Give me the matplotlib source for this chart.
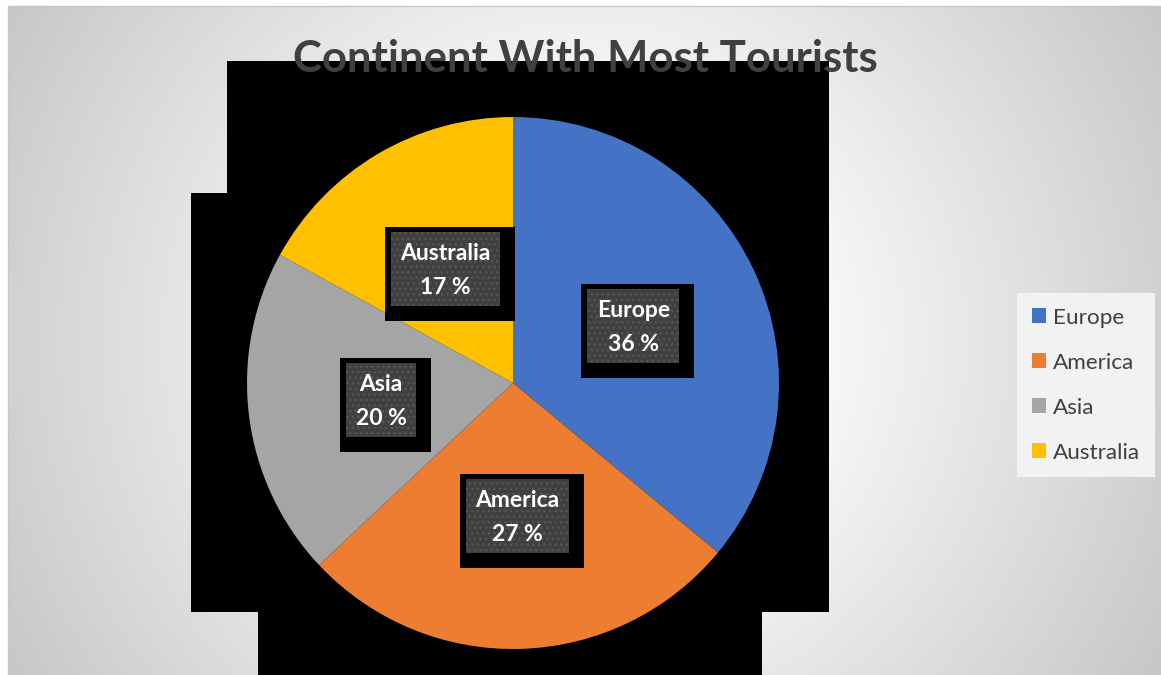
import numpy as np
import matplotlib
matplotlib.use("Agg")
import matplotlib.pyplot as plt
from matplotlib.patches import Rectangle, Polygon

# --- data ---
continents = ["Europe", "America", "Asia", "Australia"]
shares = [36, 27, 20, 17]
colors = ["#4472C4", "#ED7D31", "#A5A5A5", "#FFC000"]
title = "Continent With Most Tourists"

W, H = 1161, 675
plt.rcParams["font.family"] = ["Lato", "DejaVu Sans"]

fig = plt.figure(figsize=(W / 100, H / 100), dpi=100)
fig.patch.set_facecolor("white")
ax = fig.add_axes([0, 0, 1, 1])
ax.set_axis_off()


def Y(py):
    """Convert a top-down pixel row to the upward y used by the axes."""
    return H - py


# radial gray background of the chart area
x0, x1, y0, y1 = 8, W, 6, H
gx, gy = np.meshgrid(np.arange(x0, x1) + 0.5, np.arange(y0, y1) + 0.5)
d = np.hypot(gx - 585, gy - 340)
v = np.clip(1.08 - 0.00045 * d, 0, 1)
ax.imshow(np.dstack([v, v, v]), extent=(x0, x1, Y(y1), Y(y0)),
          origin="upper", interpolation="bilinear", zorder=0, aspect="auto")
ax.plot([x0, x0, W], [Y(H), Y(y0), Y(y0)], color="#c8c8c8", lw=1, zorder=1)

# black backdrop behind the pie
backdrop = [(227, 61), (829, 61), (829, 612), (762, 612), (762, 675),
            (258, 675), (258, 612), (191, 612), (191, 193), (227, 193)]
ax.add_patch(Polygon([(px, Y(py)) for px, py in backdrop], closed=True,
                     fc="black", ec="none", zorder=2))

# pie
cx, cy, r = 513, Y(383), 266
wedges, _ = ax.pie(shares, colors=colors, startangle=90, counterclock=False,
                   center=(cx, cy), radius=r,
                   wedgeprops=dict(linewidth=0, zorder=3))
for w in wedges:
    w.set_zorder(3)

ax.set_xlim(0, W)
ax.set_ylim(0, H)
ax.set_aspect("auto")

# data labels
label_fs = 16.5
texts = []
for w, name, val in zip(wedges, continents, shares):
    mid = np.deg2rad((w.theta1 + w.theta2) / 2)
    lx = cx + 0.5 * r * np.cos(mid)
    ly = cy + 0.5 * r * np.sin(mid)
    t1 = ax.text(lx, ly + 17 - 8, name, ha="center", va="baseline",
                 color="white", fontsize=label_fs, fontweight="bold", zorder=7)
    t2 = ax.text(lx, ly - 17 - 8, f"{val} %", ha="center", va="baseline",
                 color="white", fontsize=label_fs, fontweight="bold", zorder=7)
    texts.append((lx, ly, t1, t2))

fig.canvas.draw()
renderer = fig.canvas.get_renderer()
for lx, ly, t1, t2 in texts:
    tw = max(t1.get_window_extent(renderer).width,
             t2.get_window_extent(renderer).width)
    bw, bh = tw + 19, 74
    left, top = lx - bw / 2, ly + bh / 2
    ax.add_patch(Rectangle((left - 6, top + 5 - (bh + 20)), bw + 21, bh + 20,
                           fc="black", ec="none", zorder=5))
    ax.add_patch(Rectangle((left, top - bh), bw, bh, fc="#404040",
                           ec="#565656", lw=0, hatch="...", zorder=6))

# title
ax.text(585, Y(72), title, ha="center", va="baseline", fontsize=31.5,
        fontweight="bold", color="#404040", zorder=8)

# legend
leg = ax.legend(wedges, continents, loc="upper left",
                bbox_to_anchor=(1017 / W, Y(293) / H), borderaxespad=0,
                frameon=True, fancybox=False, fontsize=16.2,
                handlelength=0.62, handleheight=0.62, handletextpad=0.32,
                borderpad=0.65, labelspacing=1.11, labelcolor="#404040")
leg.get_frame().set_facecolor("#f2f2f2")
leg.get_frame().set_edgecolor("none")
leg.get_frame().set_alpha(1)
leg.set_zorder(8)

fig.savefig("out.png", dpi=100)
